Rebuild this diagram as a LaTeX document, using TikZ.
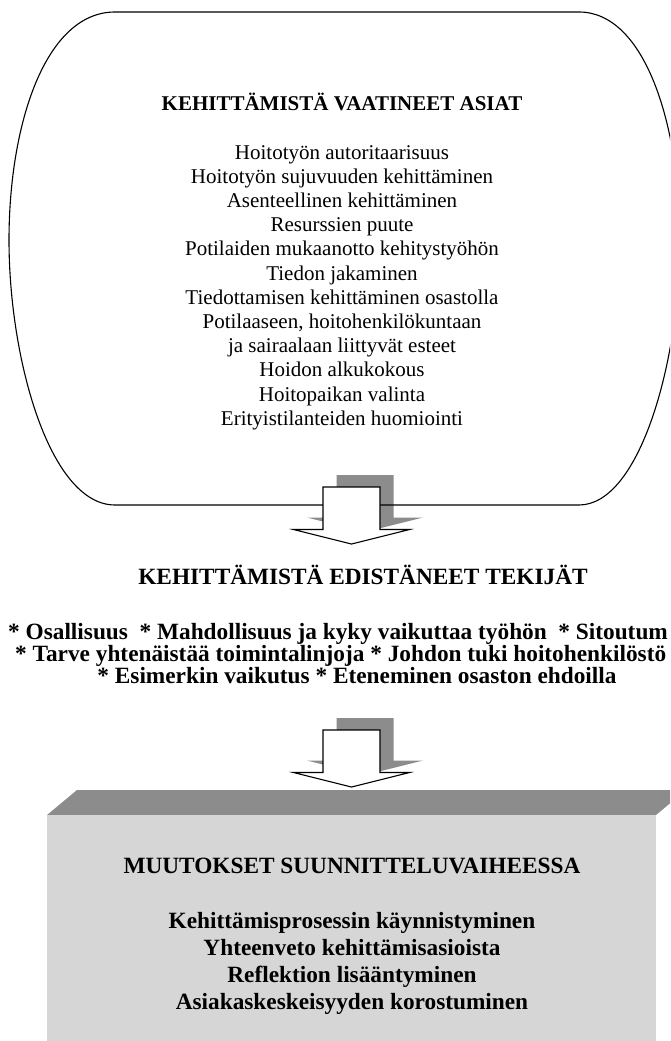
\documentclass[tikz,border=0pt]{standalone}
\usepackage{fontspec}
\setmainfont{Liberation Serif}
\definecolor{darkdither}{gray}{0.55}
\definecolor{lightdither}{gray}{0.84}
\begin{document}
\begin{tikzpicture}[x=1pt,y=-1pt,
  shapeline/.style={draw=black, line width=1.1pt},
  shadowfill/.style={fill=darkdither},
  arrowbody/.style={draw=black, fill=white, line width=1.1pt, line join=miter},
  bandfill/.style={fill=darkdither},
  facefill/.style={fill=lightdither},
  listtext/.style={font=\fontsize{21}{24.2}\selectfont, inner sep=0pt, anchor=base},
  boldtext/.style={font=\bfseries\fontsize{23.3}{27}\selectfont, inner sep=0pt, anchor=base},
  arrowshadow/.pic={
    \fill[shadowfill, shift={(13.5,-12)}] (-28.5,0) -- (28.5,0) -- (28.5,42.5) -- (58,42.5) -- (0,57) -- (-58,42.5) -- (-28.5,42.5) -- cycle;
  },
  arrowfront/.pic={
    \draw[arrowbody] (-28.5,0) -- (28.5,0) -- (28.5,42.5) -- (58,42.5) -- (0,57) -- (-58,42.5) -- (-28.5,42.5) -- cycle;
  }
]
\useasboundingbox (0,0) rectangle (670,1041);
\clip (0,0) rectangle (670,1041);

% first arrow shadow (behind the outline)
\pic at (351.5,487) {arrowshadow};

% big rounded shape
\draw[shapeline] (115,12) -- (579,12)
  .. controls (645,12) and (680,125) .. (680,240)
  .. controls (680,360) and (640,505) .. (579,505)
  -- (115,505)
  .. controls (50,505) and (9,360) .. (9,240)
  .. controls (9,125) and (45,12) .. cycle;

\pic at (351.5,487) {arrowfront};

% texts of the first block
\node[listtext, font=\bfseries\fontsize{21}{24.2}\selectfont] (t1) at (342,110) {KEHITTÄMISTÄ VAATINEET ASIAT};
\foreach \txt [count=\i] in {Hoitotyön autoritaarisuus, Hoitotyön sujuvuuden kehittäminen, Asenteellinen kehittäminen, Resurssien puute, Potilaiden mukaanotto kehitystyöhön, Tiedon jakaminen, Tiedottamisen kehittäminen osastolla, {Potilaaseen, hoitohenkilökuntaan}, ja sairaalaan liittyvät esteet, Hoidon alkukokous, Hoitopaikan valinta, Erityistilanteiden huomiointi}
  \node[listtext] (item\i) at (342,{159+(\i-1)*24.2}) {\txt};

% middle block
\node[boldtext] (t2) at (363,584) {KEHITTÄMISTÄ EDISTÄNEET TEKIJÄT};
\node[boldtext, anchor=base west] (b1) at (8,639) {* Osallisuus\ \ * Mahdollisuus ja kyky vaikuttaa työhön\ \ * Sitoutum};
\node[boldtext, anchor=base west] (b2) at (15,661) {* Tarve yhtenäistää toimintalinjoja * Johdon tuki hoitohenkilöstö};
\node[boldtext] (b3) at (357,683) {* Esimerkin vaikutus * Eteneminen osaston ehdoilla};

% 3D box
\fill[bandfill] (47,815) -- (656,815) -- (686,790) -- (77,790) -- cycle;
\fill[facefill] (47,815) rectangle (656,1045);

% second arrow
\pic at (351.5,730) {arrowshadow};
\pic at (351.5,730) {arrowfront};

% bottom block texts
\node[boldtext] (t3) at (352,873) {MUUTOKSET SUUNNITTELUVAIHEESSA};
\foreach \txt [count=\i] in {Kehittämisprosessin käynnistyminen, Yhteenveto kehittämisasioista, Reflektion lisääntyminen, Asiakaskeskeisyyden korostuminen}
  \node[boldtext] (c\i) at (352,{928+(\i-1)*27}) {\txt};
\end{tikzpicture}
\end{document}
